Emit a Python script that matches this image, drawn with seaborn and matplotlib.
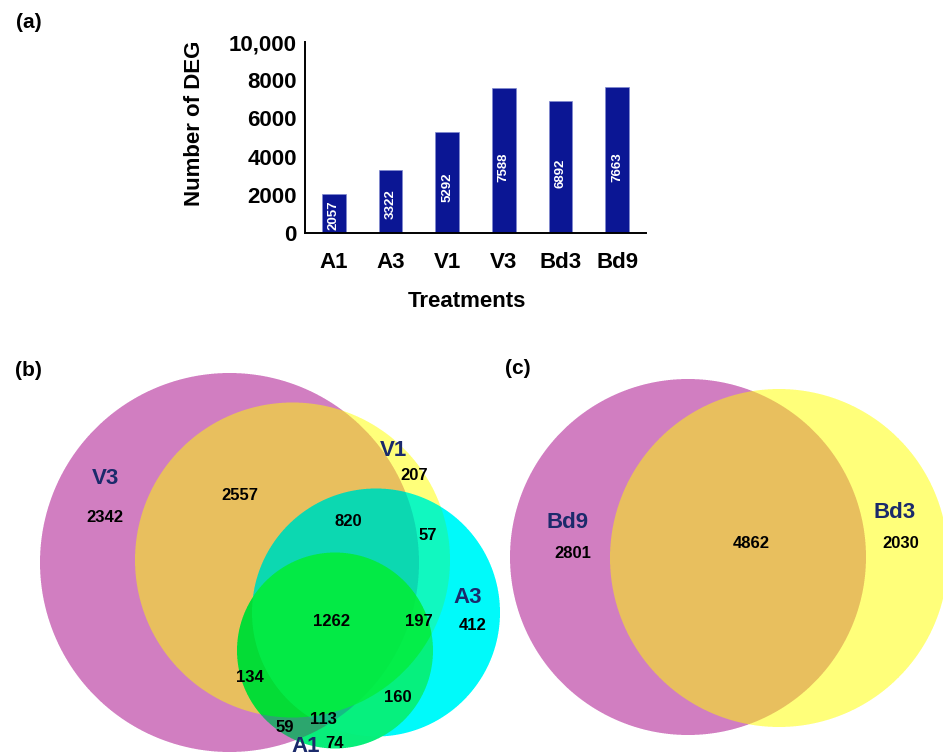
import numpy as np
import matplotlib
matplotlib.use("Agg")
import matplotlib.pyplot as plt
from matplotlib.colors import to_rgba
from matplotlib.ticker import FuncFormatter
import seaborn as sns

# ---- data -------------------------------------------------------------
treatments = ["A1", "A3", "V1", "V3", "Bd3", "Bd9"]
deg_counts = [2057, 3322, 5292, 7588, 6892, 7663]

# (b) four-way overlap: V3, V1, A3, A1
b_sets = ["V3", "V1", "A3", "A1"]
b_region_counts = [2342, 2557, 207, 820, 57, 412, 1262, 197, 134, 160, 113, 59, 74]

# (c) two-way overlap: Bd9, Bd3
c_sets = ["Bd9", "Bd3"]
c_region_counts = [2801, 4862, 2030]

# ---- layout (figure pixel coordinates, y downwards) -------------------
W, H = 943, 756
b_circles = [(229.5, 562.5, 189.5),   # V3
             (292.5, 560.0, 157.5),   # V1
             (376.0, 612.5, 124.0),   # A3
             (335.0, 650.5, 98.0)]    # A1
b_set_xy = [(105.5, 479), (393, 450), (468, 597.5), (305.5, 746)]
b_count_xy = [(105, 517), (240, 495), (414, 476), (348.5, 522), (427.5, 535),
              (473, 626), (332, 621.5), (419, 621.5), (250, 677), (398, 697),
              (323, 720), (285, 728), (334, 744)]

c_circles = [(688.0, 557.0, 178.0),   # Bd9
             (779.0, 558.0, 169.0)]   # Bd3
c_set_xy = [(568, 523), (895, 512)]
c_count_xy = [(573, 553), (751, 544), (900.5, 544)]

# region fill colour indexed by membership bits (bit i = inside circle i)
b_palette = ["none", "#D17EC1", "#FFFF7A", "#E8BF5E",
             "#00FAFA", "#14C6C0", "#12F8C0", "#0CD8B2",
             "#08EE7A", "#2DA66E", "#08E840", "#04DC36",
             "#06F07E", "#16BC84", "#04EE4A", "#03EA46"]
c_palette = ["none", "#D17EC1", "#FFFF7A", "#E8BF5E"]

NAVY = "#0B1694"
SET_COLOR = "#1B2A6B"

sns.set_theme(style="white")
plt.rcParams["font.family"] = ["Liberation Sans", "DejaVu Sans"]
plt.rcParams["font.weight"] = "bold"
for key in ("text.color", "axes.labelcolor", "xtick.color", "ytick.color"):
    plt.rcParams[key] = "black"

fig = plt.figure(figsize=(W / 100, H / 100), dpi=100)

# overlay in pixel coordinates for the Venn panels and panel tags
ov = fig.add_axes([0, 0, 1, 1])


def draw_venn(ax, circles, palette, box, ss=4):
    """Fill every overlap region with its own colour (supersampled)."""
    x0, y0, x1, y1 = box
    w, h = x1 - x0, y1 - y0
    xs = x0 + (np.arange(w * ss) + 0.5) / ss
    ys = y0 + (np.arange(h * ss) + 0.5) / ss
    X, Y = np.meshgrid(xs, ys)
    code = np.zeros(X.shape, dtype=int)
    for bit, (cx, cy, r) in enumerate(circles):
        code |= (((X - cx) ** 2 + (Y - cy) ** 2) <= r * r).astype(int) << bit
    lut = np.array([to_rgba(c) if c != "none" else (1, 1, 1, 0) for c in palette])
    rgba = lut[code]
    alpha = rgba[..., 3]
    prem = rgba[..., :3] * alpha[..., None]
    prem = prem.reshape(h, ss, w, ss, 3).mean(axis=(1, 3))
    alpha = alpha.reshape(h, ss, w, ss).mean(axis=(1, 3))
    img = np.zeros((h, w, 4))
    nz = alpha > 0
    img[..., :3][nz] = prem[nz] / alpha[nz, None]
    img[..., 3] = alpha
    ax.imshow(img, extent=(x0, x1, y1, y0), interpolation="nearest", zorder=1)


draw_venn(ov, b_circles, b_palette, (0, 360, 520, 756))
draw_venn(ov, c_circles, c_palette, (500, 370, 943, 746))

for name, (x, y) in zip(b_sets, b_set_xy):
    ov.text(x, y, name, color=SET_COLOR, fontsize=16, fontweight="bold",
            ha="center", va="center", zorder=3)
for n, (x, y) in zip(b_region_counts, b_count_xy):
    ov.text(x, y, str(n), color="black", fontsize=12, fontweight="bold",
            ha="center", va="center", zorder=3)
for name, (x, y) in zip(c_sets, c_set_xy):
    ov.text(x, y, name, color=SET_COLOR, fontsize=16, fontweight="bold",
            ha="center", va="center", zorder=3)
for n, (x, y) in zip(c_region_counts, c_count_xy):
    ov.text(x, y, str(n), color="black", fontsize=12, fontweight="bold",
            ha="center", va="center", zorder=3)

for tag, (x, y) in zip(["(a)", "(b)", "(c)"], [(29, 23), (28, 370), (518, 368)]):
    ov.text(x, y, tag, color="black", fontsize=15, fontweight="bold",
            ha="center", va="center")

ov.set_xlim(0, W)
ov.set_ylim(H, 0)
ov.set_aspect("auto")
ov.axis("off")

# ---- (a) bar chart ----------------------------------------------------
ax = fig.add_axes([305 / W, (H - 233) / H, (646 - 305) / W, (233 - 42) / H])
sns.barplot(x=treatments, y=deg_counts, color=NAVY, saturation=1, width=0.42,
            edgecolor="#8089CF", linewidth=0.5, ax=ax)
for i, v in enumerate(deg_counts):
    ax.text(i, 0.45 * v, str(v), rotation=90, color="white", fontsize=9.5,
            fontweight="bold", ha="center", va="center")

ax.set_xlim(-0.51, 5.51)
ax.set_ylim(0, 10000)
ax.set_yticks([0, 2000, 4000, 6000, 8000, 10000])
ax.yaxis.set_major_formatter(FuncFormatter(
    lambda v, _: f"{v:,.0f}" if v >= 10000 else f"{v:.0f}"))
ax.tick_params(axis="y", length=0, pad=6, labelsize=16, labelcolor="black")
ax.tick_params(axis="x", length=0, pad=14, labelsize=16, labelcolor="black")
for lab in ax.get_xticklabels() + ax.get_yticklabels():
    lab.set_fontweight("bold")
ax.set_ylabel("Number of DEG", fontsize=16, fontweight="bold", color="black")
ax.set_xlabel("Treatments", fontsize=16, fontweight="bold", color="black")
ax.yaxis.set_label_coords(-0.293, 0.576)
ax.xaxis.set_label_coords(0.475, -0.305)
sns.despine(ax=ax)
for side in ("left", "bottom"):
    ax.spines[side].set_color("black")
    ax.spines[side].set_linewidth(1.4)
ax.patch.set_alpha(0)

fig.savefig("out.png", dpi=100)
